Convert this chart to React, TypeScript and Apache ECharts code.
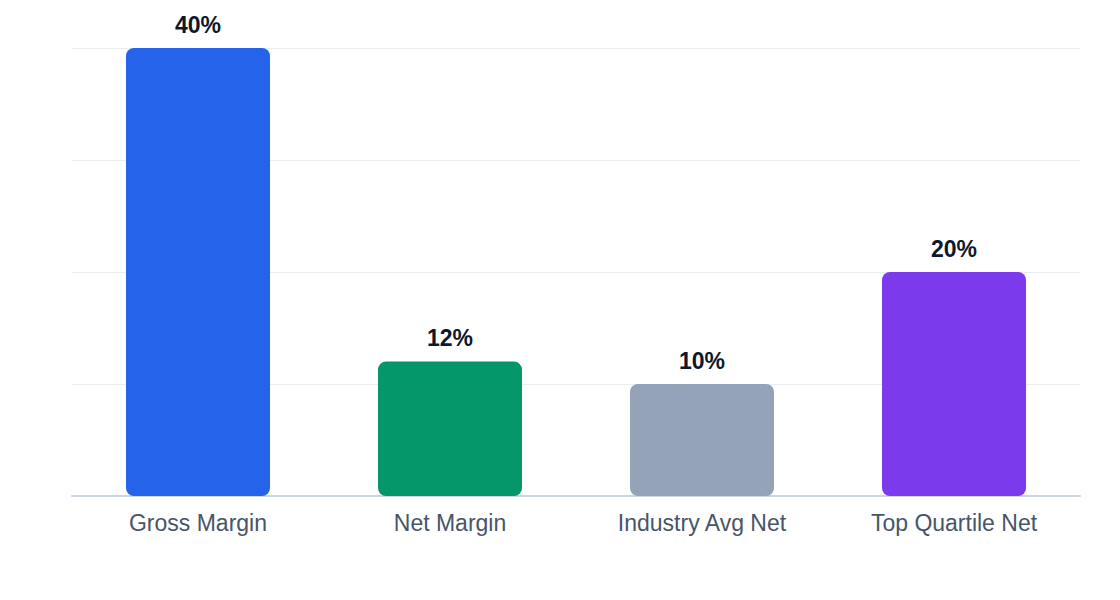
import React, { useEffect, useRef } from "react";
import * as echarts from "echarts";

const categories = ["Gross Margin", "Net Margin", "Industry Avg Net", "Top Quartile Net"];
const values = [40, 12, 10, 20];
const barColors = ["#2563eb", "#059669", "#94a3b8", "#7c3aed"];

const App: React.FC = () => {
  const chartRef = useRef<HTMLDivElement>(null);

  useEffect(() => {
    const chart = echarts.init(chartRef.current!, undefined, { renderer: "svg" });

    chart.setOption({
      animation: false,
      backgroundColor: "#ffffff",
      textStyle: { fontFamily: "Liberation Sans, Arial, sans-serif" },
      grid: { left: 72, right: 40, top: 48, bottom: 104 },
      xAxis: {
        type: "category",
        data: categories,
        axisLine: { lineStyle: { color: "#cbd5e1", width: 2 } },
        axisTick: { show: false },
        axisLabel: { color: "#475569", fontSize: 23, margin: 15 },
      },
      yAxis: {
        type: "value",
        min: 0,
        max: 40,
        interval: 10,
        axisLabel: { show: false },
        axisLine: { show: false },
        axisTick: { show: false },
        splitLine: { lineStyle: { color: "#e9ecf1", width: 1 } },
      },
      series: [
        {
          type: "bar",
          barWidth: 144,
          data: values.map((v, i) => ({
            value: v,
            itemStyle: { color: barColors[i], borderRadius: 8 },
          })),
          label: {
            show: true,
            position: "top",
            distance: 12,
            formatter: "{c}%",
            color: "#0f172a",
            fontSize: 23,
            fontWeight: "bold",
          },
        },
      ],
    });

    return () => {
      chart.dispose();
    };
  }, []);

  return (
    <div
      ref={chartRef}
      style={{ position: "fixed", left: 0, top: 0, width: 1120, height: 600 }}
    />
  );
};

export default App;
